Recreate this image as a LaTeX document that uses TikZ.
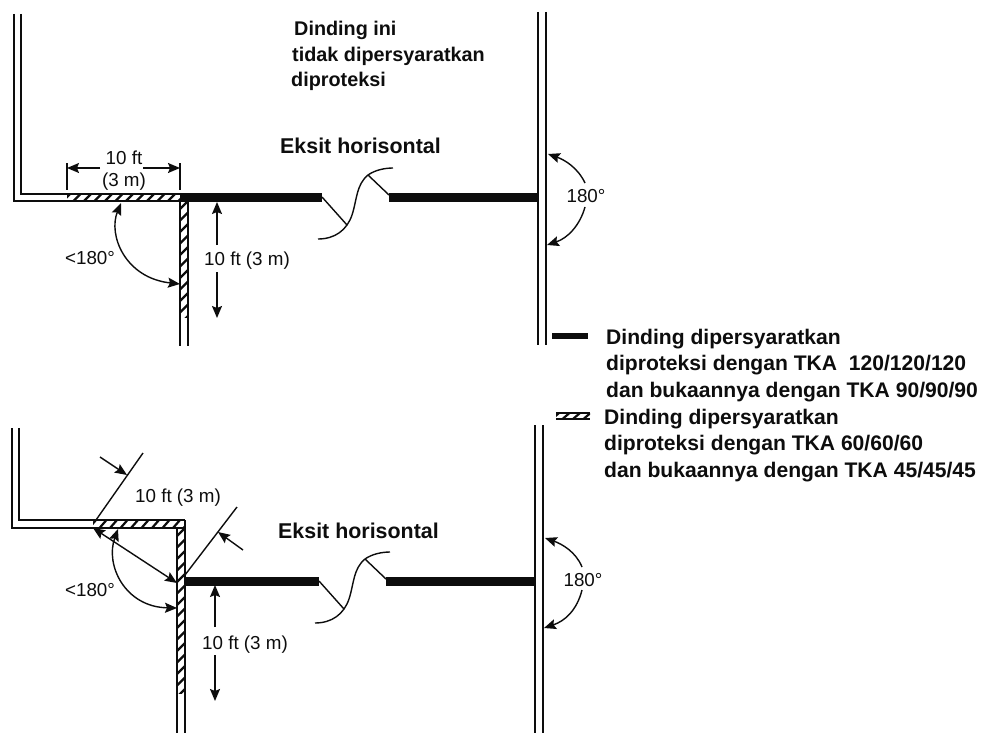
\documentclass[tikz,border=0pt]{standalone}
\usepackage{fontspec}
\setmainfont{Liberation Sans}
\usetikzlibrary{arrows.meta}
\definecolor{ink}{gray}{0.05}
\tikzset{
  tip/.tip={Stealth[length=12pt,width=10pt,inset=2pt]},
  wall/.style={draw=ink,line width=1.7pt},
  thin line/.style={draw=ink,line width=1.4pt},
  fire wall/.style={draw=ink,line width=9pt},
  stripe/.style={draw=ink,line width=2.2pt},
  dim/.style={draw=ink,line width=1.4pt,-tip},
  dimtwo/.style={draw=ink,line width=1.4pt,tip-tip},
  lbl/.style={inner sep=0pt,text=ink,font=\fontsize{18.8}{22}\selectfont},
  head/.style={inner sep=0pt,anchor=base west,text=ink,font=\fontsize{19.8}{25}\selectfont\bfseries},
  exit/.style={inner sep=0pt,anchor=base west,text=ink,font=\fontsize{21.4}{25}\selectfont\bfseries},
  legend/.style={inner sep=0pt,anchor=north west,align=left,text=ink,font=\fontsize{21.1}{26.5}\selectfont\bfseries}
}
% horizontal hatched band: x1, x2, top y, bottom y
\newcommand{\hband}[4]{%
  \begin{scope}
    \clip (#1,#3) rectangle (#2,#4);
    \foreach \k in {0,...,14}{\draw[stripe] ({#1-4+\k*10.5},#4) -- ++(7,{#3-#4});}
  \end{scope}
  \draw[wall] (#1,#3) -- (#2,#3) (#1,#4) -- (#2,#4);
}
% vertical hatched band: left x, right x, y1, y2
\newcommand{\vband}[4]{%
  \begin{scope}
    \clip (#1,#3) rectangle (#2,#4);
    \foreach \k in {0,...,19}{\draw[stripe] (#1,{#3+8+\k*11.5}) -- (#2,{#3+\k*11.5});}
  \end{scope}
  \draw[wall] (#1,#3) -- (#1,#4) (#2,#3) -- (#2,#4);
}
% door leaves and their swing
\newcommand{\doorleaf}{%
  \draw[thin line] (322,197) -- (347,225);
  \draw[thin line] (368,175) -- (389,195);
  \draw[thin line] (318,239) .. controls (335,239) and (347,230) .. (352,215)
     .. controls (357,200) and (356,185) .. (368,175)
     .. controls (375,170) and (385,168) .. (393,168);
}
\begin{document}
\begin{tikzpicture}[x=1pt,y=-1pt]
\useasboundingbox (0,0) rectangle (984,733);
% ---------- upper plan ----------
\draw[wall] (14,14) -- (14,201) -- (67,201);
\draw[wall] (21,14) -- (21,194) -- (67,194);
\hband{67}{180}{194}{201}
\vband{180}{188}{201}{317}
\draw[wall] (180,317) -- (180,346) (188,317) -- (188,346);
\draw[fire wall] (180,197) -- (322,197);
\draw[fire wall] (389,197) -- (538,197);
\doorleaf
\draw[wall] (538,12) -- (538,345);
\draw[wall] (546,12) -- (546,345);
% dimensions
\draw[thin line] (67,163) -- (67,190) (180,163) -- (180,190);
\draw[dim] (100,168) -- (67,168);
\draw[dim] (143,168) -- (180,168);
\node[lbl] (a10) at (124,158) {10 ft};
\node[lbl] (a3) at (124,181.5) {(3 m)};
\draw[dim] (217,245) -- (217,202);
\draw[dim] (217,272) -- (217,318);
\node[lbl] (aside) at (247,260.5) {10 ft (3 m)};
\node[lbl] (aangle) at (90,258) {<180°};
\draw[dimtwo] (121,203) .. controls (108,235) and (125,278) .. (180,284);
\node[lbl] (aright) at (586,196) {180°};
\draw[dim] (585,183) .. controls (578,168) and (565,160) .. (548,154);
\draw[dim] (585,207) .. controls (580,225) and (568,238) .. (547,245);
\node[exit] (aexit) at (280,153) {Eksit horisontal};
\node[head] (top1) at (294,36) {Dinding ini};
\node[head] (top2) at (292,62) {tidak dipersyaratkan};
\node[head] (top3) at (291,87) {diproteksi};
% ---------- legend ----------
\draw[draw=ink,line width=6pt] (552,336) -- (588,336);
\hband{556}{590}{413}{419}
\node[legend] (leg1) at (606,329) {Dinding dipersyaratkan\\diproteksi dengan TKA\ \ 120/120/120\\dan bukaannya dengan TKA 90/90/90};
\node[legend] (leg2) at (604,409) {Dinding dipersyaratkan\\diproteksi dengan TKA 60/60/60\\dan bukaannya dengan TKA 45/45/45};
% ---------- lower plan ----------
\draw[wall] (12,428) -- (12,528) -- (93,528);
\draw[wall] (19,428) -- (19,520) -- (93,520);
\hband{93}{185}{520}{528}
\vband{177}{185}{528}{693}
\draw[wall] (185,520) -- (185,528);
\draw[wall] (177,693) -- (177,733) (185,693) -- (185,733);
\draw[fire wall] (185,581) -- (319,581);
\draw[fire wall] (386,581) -- (535,581);
\begin{scope}[shift={(-3pt,-384pt)}]
\doorleaf
\end{scope}
\draw[wall] (535,425) -- (535,733);
\draw[wall] (543,425) -- (543,733);
% dimensions
\draw[thin line] (96,520) -- (143,453);
\draw[thin line] (185,575) -- (237,507);
\draw[dim] (100,457) -- (127,475);
\draw[dim] (243,550) -- (218,532);
\draw[dimtwo] (93,528) -- (177,583);
\node[lbl] (bdiag) at (178,497.5) {10 ft (3 m)};
\node[lbl] (bangle) at (90,590) {<180°};
\draw[dimtwo] (118,529) .. controls (105,565) and (125,607) .. (177,608);
\draw[dim] (215,627) -- (215,585);
\draw[dim] (215,655) -- (215,701);
\node[lbl] (bside) at (245,644.5) {10 ft (3 m)};
\node[lbl] (bright) at (583,580) {180°};
\draw[dim] (582,567) .. controls (576,552) and (562,544) .. (545,538);
\draw[dim] (582,590) .. controls (577,610) and (565,621) .. (544,628);
\node[exit] (bexit) at (278,538) {Eksit horisontal};
\end{tikzpicture}
\end{document}
